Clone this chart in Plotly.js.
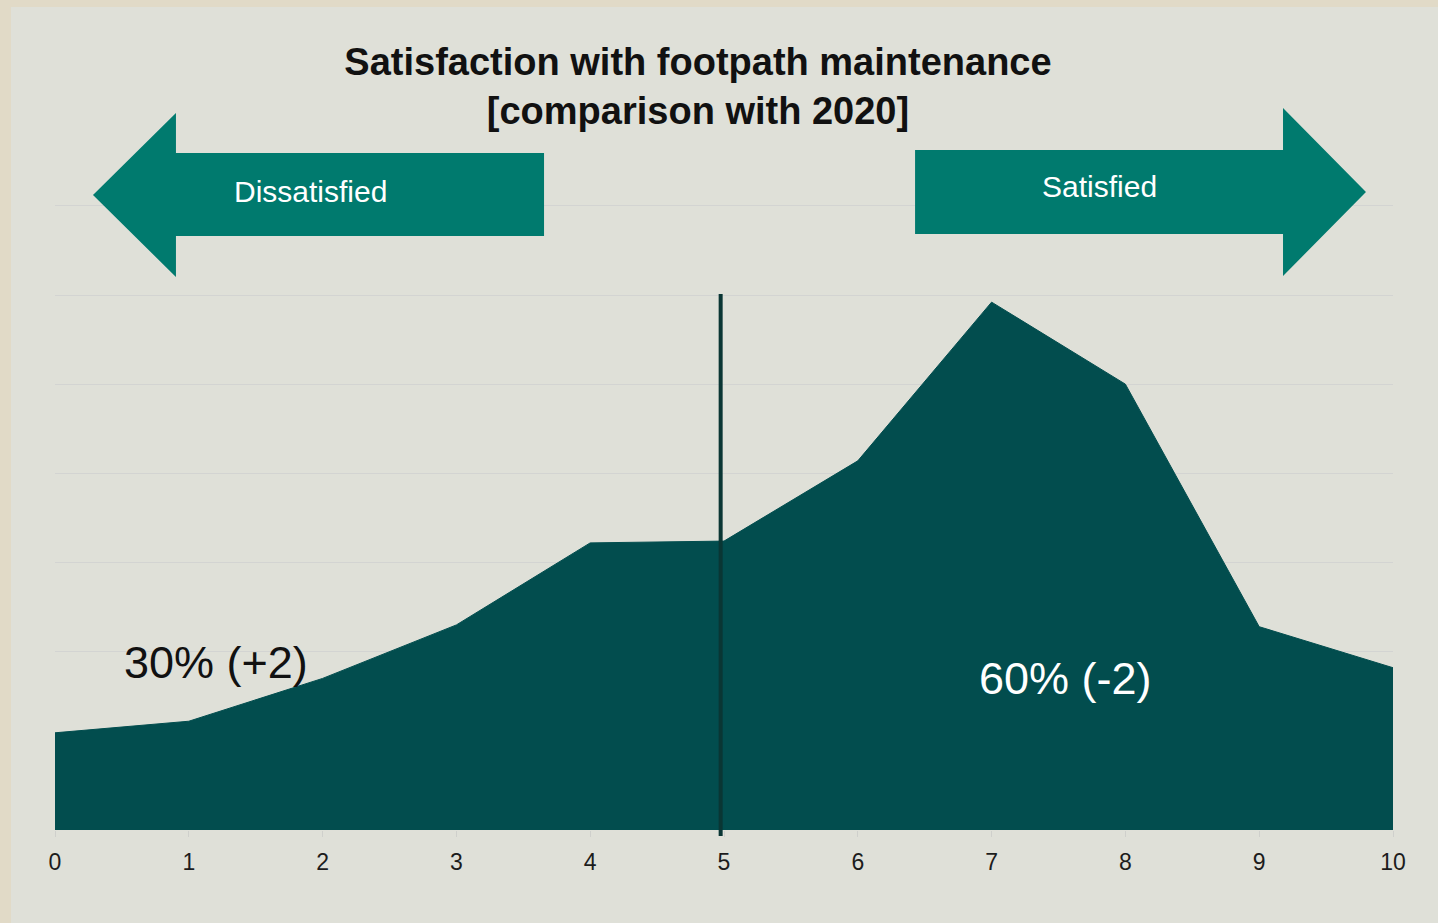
<!DOCTYPE html>
<html>
<head>
<meta charset="utf-8">
<script src="https://cdn.plot.ly/plotly-3.0.1.min.js"></script>
<style>
  html, body { margin: 0; padding: 0; background: #e1dac7; width: 1438px; height: 923px; overflow: hidden; }
  #chart { position: absolute; left: 11px; top: 7px; width: 1427px; height: 916px; }
</style>
</head>
<body>
<div id="chart"></div>
<script>
// Data
const scores = [0, 1, 2, 3, 4, 5, 6, 7, 8, 9, 10];
const share = [5.45, 6.1, 8.5, 11.5, 16.1, 16.2, 20.7, 29.6, 25.0, 11.4, 9.1];
const tickLabels = ["0", "1", "2", "3", "4", "5", "6", "7", "8", "9", "10"];
const gridVals = [0, 5, 10, 15, 20, 25, 30, 35];
const titleText = "Satisfaction with footpath maintenance<br>[comparison with 2020]";
const leftLabel = "Dissatisfied";
const rightLabel = "Satisfied";
const dissatisfiedText = "30% (+2)";
const satisfiedText = "60% (-2)";
const midpoint = 5;

// layout geometry (page pixels -> paper units)
const M = { l: 44, r: 45, t: 181, b: 93 };
const W = 1427 - M.l - M.r, H = 916 - M.t - M.b;
const px = x => ((x - 11 - M.l) / W).toFixed(4);
const py = y => ((H + M.t - (y - 7)) / H).toFixed(4);
function poly(pts) {
  return pts.map((p, i) => (i ? 'L' : 'M') + px(p[0]) + ',' + py(p[1])).join(' ') + ' Z';
}
const leftArrow = poly([[93,195],[176,113],[176,153],[544,153],[544,236],[176,236],[176,277]]);
const rightArrow = poly([[915,150],[1283,150],[1283,108],[1366,192],[1283,276],[1283,234],[915,234]]);

const arrowColor = '#007a6e';
const areaColor = '#024d4e';

const trace = {
  x: scores, y: share, type: 'scatter', mode: 'lines',
  fill: 'tozeroy', fillcolor: areaColor,
  line: { color: areaColor, width: 1 },
  hoverinfo: 'x+y', showlegend: false
};

const layout = {
  width: 1427, height: 916,
  margin: M,
  paper_bgcolor: '#dfe0d8',
  plot_bgcolor: '#dfe0d8',
  font: { family: 'Arial, "Liberation Sans", sans-serif', color: '#1a1a1a' },
  title: {
    text: '<b>' + titleText + '</b>',
    font: { size: 38, color: '#111111', family: 'Arial, "Liberation Sans", sans-serif' },
    x: (698 - 55) / W, xref: 'paper', xanchor: 'center',
    y: 1 - 68 / 916, yref: 'container', yanchor: 'top'
  },
  xaxis: {
    range: [0, 10], tickvals: scores, ticktext: tickLabels,
    showgrid: false, zeroline: false, showline: false,
    ticks: 'outside', ticklen: 6, tickwidth: 1, tickcolor: '#cfd0cc',
    ticklabelstandoff: 5,
    tickfont: { size: 23, color: '#1c1c1c' },
    fixedrange: true
  },
  yaxis: {
    range: [0, 36], tickvals: gridVals, showticklabels: false,
    showgrid: true, gridcolor: '#d3d4d2', gridwidth: 1,
    zeroline: false, showline: false, ticks: '',
    fixedrange: true
  },
  shapes: [
    { type: 'path', xref: 'paper', yref: 'paper', path: leftArrow, fillcolor: arrowColor, line: { width: 0 }, layer: 'above' },
    { type: 'path', xref: 'paper', yref: 'paper', path: rightArrow, fillcolor: arrowColor, line: { width: 0 }, layer: 'above' },
    { type: 'line', xref: 'x', yref: 'paper', x0: midpoint - 0.025, x1: midpoint - 0.025, y0: +py(836), y1: +py(294),
      line: { color: '#0a3634', width: 4 }, layer: 'above' }
  ],
  annotations: [
    { text: leftLabel, xref: 'paper', yref: 'paper', x: +px(310), y: +py(191), showarrow: false,
      font: { size: 30, color: '#ffffff' }, xanchor: 'center', yanchor: 'middle' },
    { text: rightLabel, xref: 'paper', yref: 'paper', x: +px(1100), y: +py(187), showarrow: false,
      font: { size: 30, color: '#ffffff' }, xanchor: 'center', yanchor: 'middle' },
    { text: dissatisfiedText, xref: 'x', yref: 'y', x: 1.2, y: 9.4, showarrow: false,
      font: { size: 45, color: '#111111' }, xanchor: 'center', yanchor: 'middle' },
    { text: satisfiedText, xref: 'x', yref: 'y', x: 7.55, y: 8.5, showarrow: false,
      font: { size: 45, color: '#ffffff' }, xanchor: 'center', yanchor: 'middle' }
  ]
};

Plotly.newPlot('chart', [trace], layout, { displayModeBar: false, staticPlot: true });
</script>
</body>
</html>
